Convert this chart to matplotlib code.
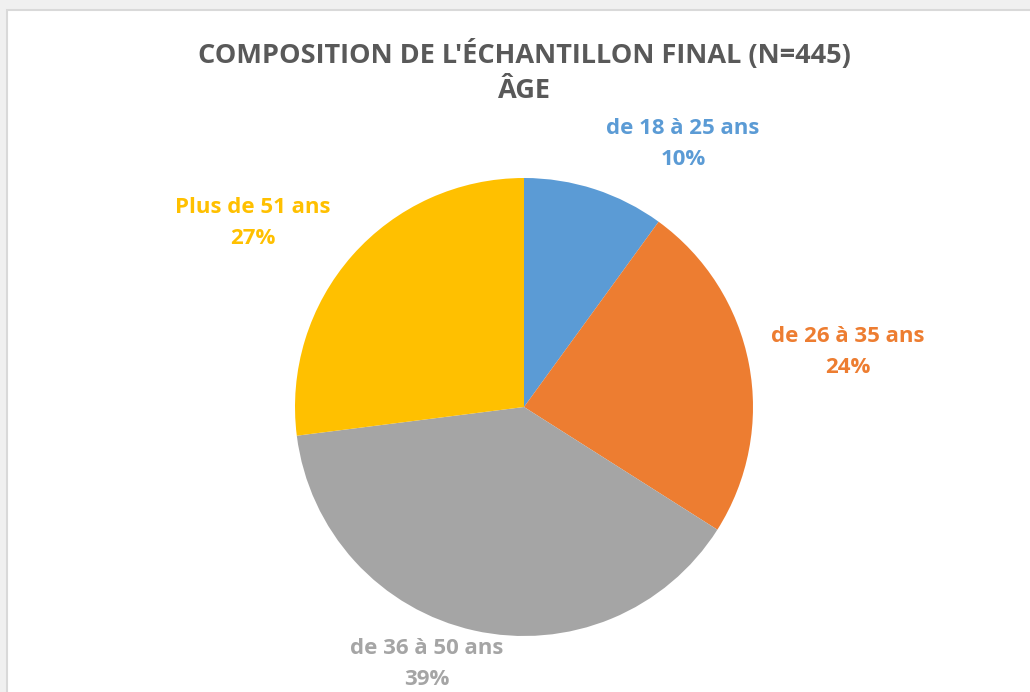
import matplotlib.pyplot as plt
from matplotlib.patches import Rectangle

plt.rcParams['font.family'] = ['Open Sans', 'DejaVu Sans']

# données
categories = ['de 18 à 25 ans', 'de 26 à 35 ans', 'de 36 à 50 ans', 'Plus de 51 ans']
pourcentages = [10, 24, 39, 27]
couleurs = ['#5b9bd5', '#ed7d31', '#a5a5a5', '#ffc000']
titre = "COMPOSITION DE L'ÉCHANTILLON FINAL (N=445)\nÂGE"

W, H = 1030, 692
cx, cy, rayon = 524, 407, 229
# positions des étiquettes (pixels depuis le coin haut gauche)
pos_etiquettes = [(683, 144), (848, 352), (427, 664), (253, 223)]

fig = plt.figure(figsize=(W / 100, H / 100), dpi=100)
fig.patch.set_facecolor('#f0f0f0')

ax = fig.add_axes([0, 0, 1, 1])

# cadre blanc du graphique
ax.add_patch(Rectangle((7, -20), W + 20, H - 10 + 20, facecolor='white',
                       edgecolor='#d9d9d9', linewidth=1.5, zorder=0))

ax.pie(pourcentages, colors=couleurs, startangle=90, counterclock=False,
       radius=rayon, center=(cx, H - cy), frame=True)
ax.set_xlim(0, W)
ax.set_ylim(0, H)
ax.set_aspect('auto')
ax.axis('off')

ax.text(524, H - 71, titre, ha='center', va='center', fontsize=19.5,
        fontweight='bold', color='#595959', linespacing=1.45)

for cat, pct, col, (x, y) in zip(categories, pourcentages, couleurs, pos_etiquettes):
    ax.text(x, H - y, f'{cat}\n{pct}%', ha='center', va='center', fontsize=16,
            fontweight='bold', color=col, linespacing=1.6)

fig.savefig('out.png', dpi=100, facecolor=fig.get_facecolor())
